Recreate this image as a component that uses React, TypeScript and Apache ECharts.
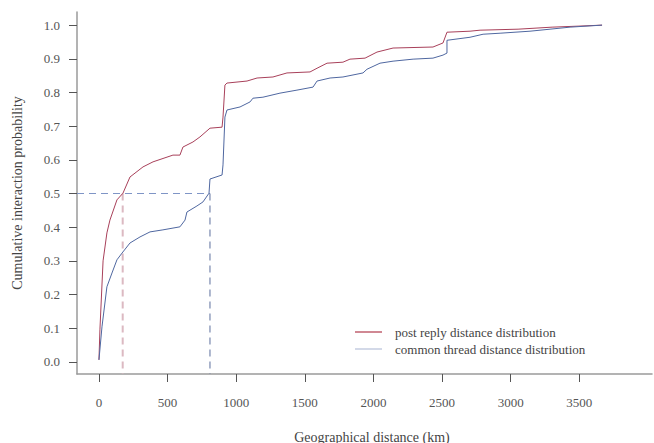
import React, { useEffect, useRef } from "react";
import * as echarts from "echarts";

const postReplyKm = [0, 7, 30, 58, 80, 131, 175, 226, 321, 394, 539, 590, 612, 685, 736, 809, 897, 904, 918, 933, 1079, 1152, 1268, 1370, 1538, 1589, 1662, 1778, 1829, 1939, 2026, 2143, 2434, 2507, 2536, 2704, 2777, 3054, 3302, 3491, 3666];
const postReplyProb = [0.006, 0.095, 0.3, 0.383, 0.421, 0.481, 0.501, 0.549, 0.579, 0.594, 0.614, 0.614, 0.638, 0.653, 0.668, 0.694, 0.697, 0.727, 0.822, 0.828, 0.834, 0.843, 0.846, 0.858, 0.861, 0.872, 0.887, 0.89, 0.899, 0.902, 0.92, 0.932, 0.935, 0.947, 0.979, 0.982, 0.985, 0.988, 0.994, 0.997, 1.0];

const commonThreadKm = [0, 22, 58, 95, 131, 168, 226, 299, 372, 466, 590, 627, 641, 714, 758, 802, 809, 897, 904, 918, 933, 1028, 1101, 1122, 1195, 1319, 1443, 1560, 1589, 1684, 1778, 1924, 1953, 2048, 2143, 2289, 2434, 2507, 2536, 2536, 2704, 2799, 2923, 3141, 3287, 3433, 3666];
const commonThreadProb = [0.006, 0.104, 0.223, 0.264, 0.303, 0.323, 0.353, 0.371, 0.386, 0.392, 0.401, 0.421, 0.445, 0.463, 0.475, 0.501, 0.543, 0.555, 0.585, 0.727, 0.748, 0.757, 0.772, 0.783, 0.786, 0.798, 0.807, 0.816, 0.834, 0.843, 0.846, 0.858, 0.869, 0.887, 0.893, 0.899, 0.902, 0.911, 0.917, 0.955, 0.964, 0.973, 0.976, 0.982, 0.988, 0.994, 1.0];

const medianProb = 0.5;
const postReplyMedianKm = 173;
const commonThreadMedianKm = 809;

const xTicks = [0, 500, 1000, 1500, 2000, 2500, 3000, 3500];
const yTicks = [0, 0.1, 0.2, 0.3, 0.4, 0.5, 0.6, 0.7, 0.8, 0.9, 1.0];
const xRange = [-160, 4030];
const yRange = [-0.036, 1.039];

const seriesNames = ["post reply distance distribution", "common thread distance distribution"];
const RED = "#a8405a";
const BLUE = "#4f67a0";
const FONT = "'Liberation Serif', 'DejaVu Serif', serif";

export default function App() {
  const ref = useRef<HTMLDivElement>(null);
  useEffect(() => {
    if (!ref.current) return;
    const chart = echarts.init(ref.current, null, { renderer: "svg" });
    const zip = (xs: number[], ys: number[]) => xs.map((x, i) => [x, ys[i]]);
    chart.setOption({
      animation: false,
      backgroundColor: "#ffffff",
      grid: { left: 77, top: 12, right: 2, bottom: 69 },
      xAxis: {
        type: "value",
        min: xRange[0],
        max: xRange[1],
        splitLine: { show: false },
        axisLine: { show: true, onZero: false, lineStyle: { color: "#9a9a9a", width: 1.5 } },
        axisTick: { show: true, length: 8, customValues: xTicks, lineStyle: { color: "#555" } },
        axisLabel: {
          customValues: xTicks,
          margin: 22,
          color: "#555",
          fontFamily: FONT,
          fontSize: 13,
          formatter: (v: number) => String(v),
        },
      },
      yAxis: {
        type: "value",
        min: yRange[0],
        max: yRange[1],
        splitLine: { show: false },
        axisLine: { show: true, onZero: false, lineStyle: { color: "#9a9a9a", width: 1.5 } },
        axisTick: { show: true, length: 8, customValues: yTicks, lineStyle: { color: "#555" } },
        axisLabel: {
          customValues: yTicks,
          margin: 17,
          color: "#555",
          fontFamily: FONT,
          fontSize: 13,
          formatter: (v: number) => v.toFixed(1),
        },
      },
      series: [
        {
          name: seriesNames[0],
          type: "line",
          data: zip(postReplyKm, postReplyProb),
          showSymbol: false,
          lineStyle: { color: RED, width: 1 },
          z: 3,
        },
        {
          name: seriesNames[1],
          type: "line",
          data: zip(commonThreadKm, commonThreadProb),
          showSymbol: false,
          lineStyle: { color: BLUE, width: 1 },
          z: 3,
        },
        {
          type: "line",
          data: [[xRange[0], medianProb], [commonThreadMedianKm, medianProb]],
          showSymbol: false,
          lineStyle: { color: "#7f95c6", width: 1, type: [7, 5] },
          z: 2,
        },
        {
          type: "line",
          data: [[postReplyMedianKm, medianProb], [postReplyMedianKm, yRange[0]]],
          showSymbol: false,
          lineStyle: { color: "#dcb9c2", width: 2, type: [7, 5] },
          z: 2,
        },
        {
          type: "line",
          data: [[commonThreadMedianKm, medianProb], [commonThreadMedianKm, yRange[0]]],
          showSymbol: false,
          lineStyle: { color: "#5c6f9e", width: 1, type: [7, 5] },
          z: 2,
        },
      ],
      graphic: [
        {
          type: "text",
          x: 372,
          y: 437,
          style: {
            text: "Geographical distance (km)",
            fontFamily: FONT,
            fontSize: 14,
            fill: "#444",
            align: "center",
            verticalAlign: "middle",
          },
        },
        {
          type: "text",
          x: 17,
          y: 193,
          rotation: Math.PI / 2,
          style: {
            text: "Cumulative interaction probability",
            fontFamily: FONT,
            fontSize: 14,
            fill: "#444",
            align: "center",
            verticalAlign: "middle",
          },
        },
        { type: "line", shape: { x1: 355, y1: 332, x2: 382, y2: 332 }, style: { stroke: "#c0606f", lineWidth: 1.5 } },
        { type: "line", shape: { x1: 355, y1: 349, x2: 382, y2: 349 }, style: { stroke: "#c4cce0", lineWidth: 1.5 } },
        {
          type: "text",
          x: 395,
          y: 332,
          style: { text: seriesNames[0], fontFamily: FONT, fontSize: 13, fill: "#444", verticalAlign: "middle" },
        },
        {
          type: "text",
          x: 395,
          y: 349,
          style: { text: seriesNames[1], fontFamily: FONT, fontSize: 13, fill: "#444", verticalAlign: "middle" },
        },
      ],
    });
    return () => chart.dispose();
  }, []);
  return <div ref={ref} style={{ width: 654, height: 443, position: "fixed", left: 0, top: 0 }} />;
}
